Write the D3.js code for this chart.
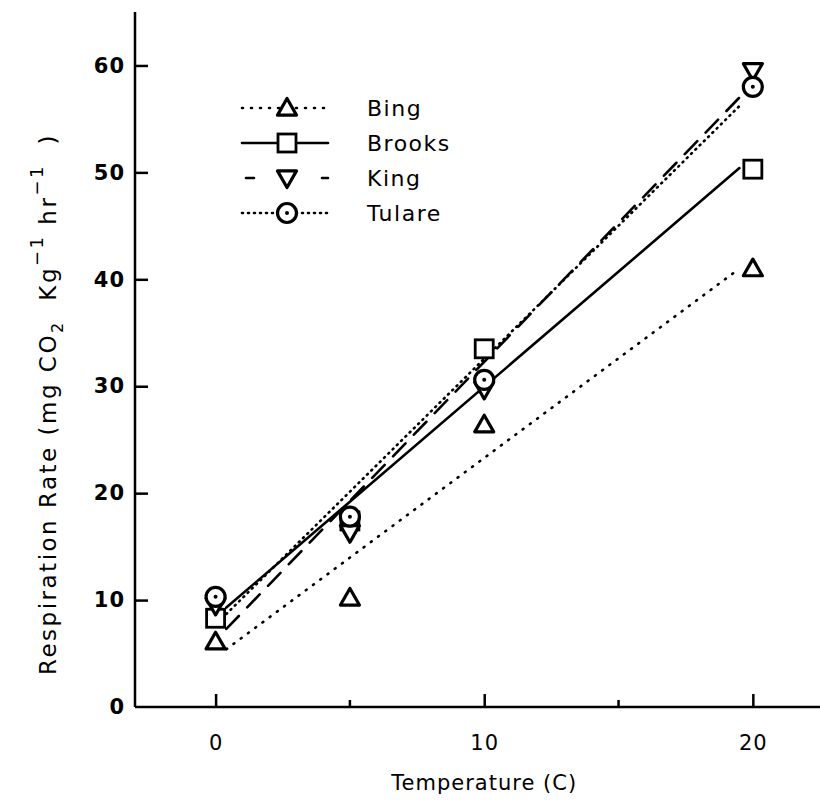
<!DOCTYPE html>
<html>
<head>
<meta charset="utf-8">
<script src="https://cdn.jsdelivr.net/npm/d3@7"></script>
<style>
  body { margin: 0; background: #fff; }
  svg text { font-family: "DejaVu Sans", sans-serif; fill: #000; }
</style>
</head>
<body>
<div id="chart"></div>
<script>
// respiration rate vs temperature, 4 cultivars

var w = 820;
var h = 801;

var temps = [0, 5, 10, 20];
var cultivars = ["Bing", "Brooks", "King", "Tulare"];

var bing   = [6.1, 10.2, 26.4, 41.0];
var brooks = [8.3, 17.4, 33.5, 50.3];
var king   = [9.5, 16.3, 29.7, 59.5];
var tulare = [10.3, 17.8, 30.6, 58.0];

// fitted lines: value at start / end of the drawn segment
var fitX     = [0.4, 19.5];
var fitStart = [5.4, 9.3, 7.3, 8.7];
var fitEnd   = [41.0, 50.4, 57.0, 56.2];

var yTicks = [0, 10, 20, 30, 40, 50, 60];
var xTicks = [0, 10, 20];
var xMinor = [5, 15];

var series = [bing, brooks, king, tulare];
var markers = ["up", "square", "down", "circle"];
var dashes = ["1,8", null, "18,12", "1,5"];

var x = d3.scaleLinear().domain([-3, 22.5]).range([135, 820]);
var y = d3.scaleLinear().domain([0, 65]).range([707, 12]);

var svg = d3.select("#chart")
            .append("svg")
            .attr("width", w)
            .attr("height", h);

// axes - ticks point inward
var yAxis = d3.axisLeft(y)
              .tickValues(yTicks)
              .tickSize(-13)
              .tickPadding(10)
              .tickFormat(d3.format("d"));

var gy = svg.append("g")
            .attr("transform", "translate(" + x(-3) + ",0)")
            .call(yAxis);
gy.select(".domain").attr("stroke-width", 2.5).attr("d", "M0," + y(65) + "V" + y(0));
gy.selectAll(".tick line").attr("stroke-width", 2.5);
gy.selectAll(".tick").filter(function (d) { return d === 0; }).select("line").remove();
gy.selectAll(".tick text")
  .attr("font-size", 21)
  .attr("font-weight", "bold")
  .attr("letter-spacing", 1)
  .attr("font-family", "DejaVu Sans");

var xAxis = d3.axisBottom(x)
              .tickValues(xTicks)
              .tickSize(-13)
              .tickPadding(28)
              .tickFormat(d3.format("d"));

var gx = svg.append("g")
            .attr("transform", "translate(0," + y(0) + ")")
            .call(xAxis);
gx.select(".domain").attr("stroke-width", 2.5).attr("d", "M" + x(-3) + ",0H" + x(22.5));
gx.selectAll(".tick line").attr("stroke-width", 2.5);
gx.selectAll(".tick text")
  .attr("font-size", 21)
  .attr("letter-spacing", 1)
  .attr("font-family", "DejaVu Sans");

gx.selectAll(".minor")
  .data(xMinor)
  .enter()
  .append("line")
  .attr("x1", function (d) { return x(d); })
  .attr("x2", function (d) { return x(d); })
  .attr("y1", 0)
  .attr("y2", -7)
  .attr("stroke", "#000")
  .attr("stroke-width", 2.5);

// axis titles
svg.append("text")
   .attr("x", x(10))
   .attr("y", 790)
   .attr("text-anchor", "middle")
   .attr("font-size", 21)
   .attr("letter-spacing", 1)
   .text("Temperature (C)");

var ylab = svg.append("text")
              .attr("transform", "translate(56,675) rotate(-90)")
              .attr("text-anchor", "start")
              .attr("font-size", 23)
              .attr("letter-spacing", 2.5)
              .attr("xml:space", "preserve");
ylab.append("tspan").text("Respiration Rate (mg CO");
ylab.append("tspan").attr("font-size", 16).attr("dy", 7).text("2");
ylab.append("tspan").attr("dy", -7).text("  Kg");
ylab.append("tspan").attr("font-size", 18).attr("dy", -13).text("\u22121");
ylab.append("tspan").attr("dy", 13).text(" hr");
ylab.append("tspan").attr("font-size", 18).attr("dy", -13).text("\u22121");
ylab.append("tspan").attr("dy", 13).text("  )");

// marker drawing
function drawMarker(g, type, cx, cy) {
  var s = 9.5;
  if (type === "up") {
    g.append("path")
     .attr("d", "M" + cx + "," + (cy - s) + "L" + (cx + s) + "," + (cy + s * 0.75) + "L" + (cx - s) + "," + (cy + s * 0.75) + "Z")
     .attr("fill", "#fff").attr("stroke", "#000").attr("stroke-width", 3.2).attr("stroke-linejoin", "round");
  } else if (type === "down") {
    g.append("path")
     .attr("d", "M" + cx + "," + (cy + s) + "L" + (cx + s) + "," + (cy - s * 0.75) + "L" + (cx - s) + "," + (cy - s * 0.75) + "Z")
     .attr("fill", "#fff").attr("stroke", "#000").attr("stroke-width", 3.2).attr("stroke-linejoin", "round");
  } else if (type === "square") {
    g.append("rect")
     .attr("x", cx - 9).attr("y", cy - 9).attr("width", 18).attr("height", 18)
     .attr("fill", "#fff").attr("stroke", "#000").attr("stroke-width", 2.8);
  } else {
    g.append("circle")
     .attr("cx", cx).attr("cy", cy).attr("r", 9.5)
     .attr("fill", "#fff").attr("stroke", "#000").attr("stroke-width", 3.2);
    g.append("circle")
     .attr("cx", cx).attr("cy", cy).attr("r", 2)
     .attr("fill", "#000");
  }
}

// fit lines
var plot = svg.append("g");
series.forEach(function (vals, i) {
  var line = plot.append("line")
                 .attr("x1", x(fitX[0]))
                 .attr("y1", y(fitStart[i]))
                 .attr("x2", x(fitX[1]))
                 .attr("y2", y(fitEnd[i]))
                 .attr("stroke", "#000")
                 .attr("stroke-width", 2.6)
                 .attr("stroke-linecap", "round");
  if (dashes[i]) line.attr("stroke-dasharray", dashes[i]);
});

// points
series.forEach(function (vals, i) {
  var g = plot.append("g");
  vals.forEach(function (v, j) {
    drawMarker(g, markers[i], x(temps[j]), y(v));
  });
});

// legend
var legY = [108, 143, 178, 213];
var leg = svg.append("g");
cultivars.forEach(function (name, i) {
  var ln = leg.append("line")
              .attr("x1", 242).attr("x2", 328)
              .attr("y1", legY[i]).attr("y2", legY[i])
              .attr("stroke", "#000").attr("stroke-width", 2.6)
              .attr("stroke-linecap", "round");
  if (dashes[i]) ln.attr("stroke-dasharray", i === 2 ? "8,30" : dashes[i]);
  if (i === 2) ln.attr("stroke-dashoffset", -4);
  drawMarker(leg, markers[i], 287, legY[i]);
  leg.append("text")
     .attr("x", 367)
     .attr("y", legY[i])
     .attr("dy", "0.36em")
     .attr("font-size", 22)
     .attr("letter-spacing", 1.5)
     .text(name);
});
</script>
</body>
</html>
